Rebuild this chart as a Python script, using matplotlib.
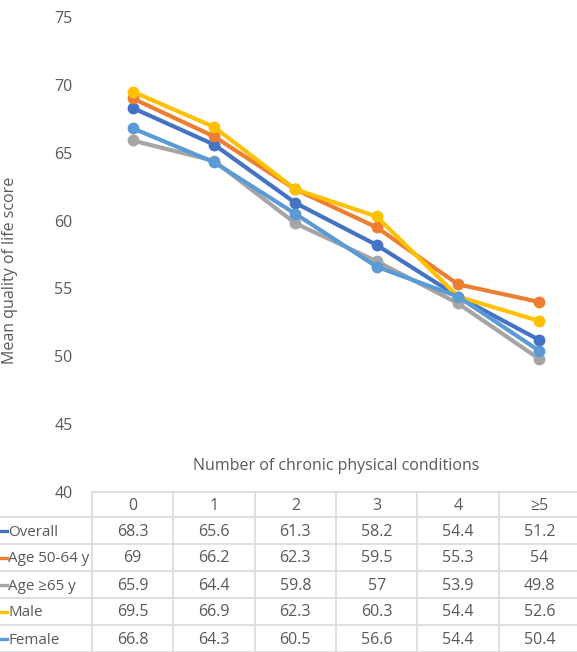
import numpy as np
import matplotlib.pyplot as plt
import matplotlib.transforms as mtransforms
from matplotlib.lines import Line2D

plt.rcParams['font.family'] = ['Open Sans', 'DejaVu Sans']

categories = ["0", "1", "2", "3", "4", "\u22655"]
series_names = ["Overall", "Age 50-64 y", "Age \u226565 y", "Male", "Female"]
overall = [68.3, 65.6, 61.3, 58.2, 54.4, 51.2]
age_50_64 = [69, 66.2, 62.3, 59.5, 55.3, 54]
age_65 = [65.9, 64.4, 59.8, 57, 53.9, 49.8]
male = [69.5, 66.9, 62.3, 60.3, 54.4, 52.6]
female = [66.8, 64.3, 60.5, 56.6, 54.4, 50.4]
series_values = [overall, age_50_64, age_65, male, female]
colors = ["#4472C4", "#ED7D31", "#A5A5A5", "#FFC000", "#5B9BD5"]

W, H = 577, 652
txt = "#595959"
grid = "#D9D9D9"
fs = 11.5

def fy(y):
    return 1 - y / H

fig = plt.figure(figsize=(W / 100, H / 100), dpi=100)
ax = fig.add_axes([92 / W, fy(492), (580 - 92) / W, (492 - 17) / H])
x = np.arange(len(categories))
for name, vals, c in zip(series_names, series_values, colors):
    ax.plot(x, vals, color=c, lw=3.0, marker='o', ms=7.5, label=name,
            solid_capstyle='round')
ax.set_xlim(-0.5, len(categories) - 0.5)
ax.set_ylim(40, 75)
ax.set_yticks(np.arange(40, 76, 5))
ax.set_xticks([])
for s in ax.spines.values():
    s.set_visible(False)
ax.tick_params(axis='y', length=0, pad=14, labelsize=fs, labelcolor=txt)
ax.set_ylabel("Mean quality of life score", fontsize=fs, color=txt)
ax.yaxis.set_label_coords(18 / W, fy(270), transform=fig.transFigure)

fig.text(336 / W, fy(466), "Number of chronic physical conditions",
         ha='center', va='center', fontsize=fs, color=txt)

# data table below the plot
tr = mtransforms.blended_transform_factory(ax.transData, fig.transFigure)
row_top = 492
header_bottom = 517
row_h = 27
bottom = header_bottom + row_h * len(series_names)

fig.add_artist(Line2D([-0.5, len(categories) - 0.5], [fy(row_top)] * 2,
                      transform=tr, color=grid, lw=1.2))
for k in range(len(series_names) + 1):
    yy = fy(header_bottom + k * row_h)
    fig.add_artist(Line2D([0, 1], [yy, yy], transform=fig.transFigure,
                          color=grid, lw=1.2))
for i in range(len(categories) + 1):
    fig.add_artist(Line2D([i - 0.5, i - 0.5], [fy(row_top), fy(bottom)],
                          transform=tr, color=grid, lw=1.2))

for i, cat in enumerate(categories):
    fig.text(i, fy((row_top + header_bottom) / 2 + 1), cat, transform=tr,
             ha='center', va='center', fontsize=fs, color=txt)

for r, (name, vals, c) in enumerate(zip(series_names, series_values, colors)):
    yc = header_bottom + row_h * r + row_h / 2
    fig.add_artist(Line2D([1 / W, 7 / W], [fy(yc), fy(yc)],
                          transform=fig.transFigure, color=c, lw=2.4))
    fig.text(8 / W, fy(yc + 1.5), name, ha='left', va='center',
             fontsize=10.9, color=txt)
    for i, v in enumerate(vals):
        fig.text(i, fy(yc + 1), f"{v:g}", transform=tr, ha='center',
                 va='center', fontsize=fs, color=txt)

fig.savefig("out.png", dpi=100)
